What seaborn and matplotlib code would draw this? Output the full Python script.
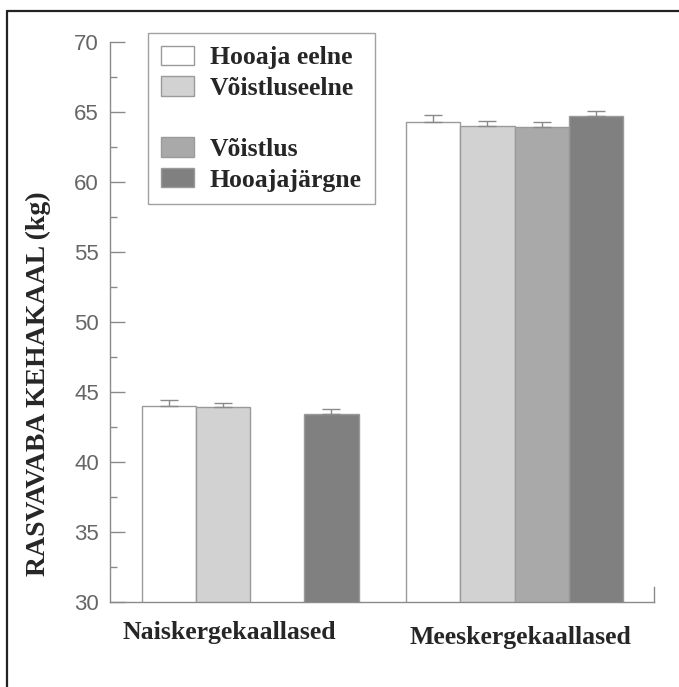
import numpy as np
import pandas as pd
import matplotlib.pyplot as plt
import seaborn as sns
from matplotlib.lines import Line2D
from matplotlib.patches import Patch
from matplotlib.transforms import ScaledTranslation

# data
groups = ["Naiskergekaallased", "Meeskergekaallased"]
phases = ["Hooaja eelne", "Võistluseelne", "Võistlus", "Hooajajärgne"]
women_mean = [44.0, 43.95, np.nan, 43.45]
women_err = [0.45, 0.28, np.nan, 0.32]
men_mean = [64.3, 64.03, 63.96, 64.74]
men_err = [0.45, 0.35, 0.35, 0.33]
phase_colors = ["#ffffff", "#d2d2d2", "#a9a9a9", "#808080"]

yticks = [30, 35, 40, 45, 50, 55, 60, 65, 70]
ylabel = "RASVAVABA KEHAKAAL (kg)"

df = pd.DataFrame({
    "group": [groups[0]] * 4 + [groups[1]] * 4,
    "phase": phases * 2,
    "mass": women_mean + men_mean,
    "err": women_err + men_err,
})

sns.set_style("white")
plt.rcParams["font.family"] = ["Liberation Serif", "DejaVu Serif"]

fig = plt.figure(figsize=(6.79, 6.87), dpi=100)
ax = fig.add_axes([0.162, 0.1237, 0.801, 0.8152])

sns.barplot(
    data=df, x="group", y="mass", hue="phase",
    order=groups, hue_order=phases, palette=phase_colors,
    width=0.82, edgecolor="#9a9a9a", linewidth=1.0,
    errorbar=None, legend=False, ax=ax,
)

# one-sided error bars on top of each bar
for cont, phase in zip(ax.containers, phases):
    sub = df[df["phase"] == phase].dropna()
    for bar in cont:
        h = bar.get_height()
        if np.isnan(h):
            continue
        row = sub.iloc[(sub["mass"] - h).abs().argmin()]
        xc = bar.get_x() + bar.get_width() / 2
        ax.errorbar(xc, h, yerr=[[0], [row["err"]]], fmt="none",
                    ecolor="#8a8a8a", elinewidth=1.0, capsize=6.5,
                    capthick=1.0, zorder=3)

ax.set_ylim(30, 70)
ax.set_xlim(-0.53, 1.527)
ax.set_yticks(yticks)
ax.set_yticks(np.arange(32.5, 70, 5), minor=True)
ax.tick_params(axis="y", which="major", direction="in", length=11,
               width=1, color="#8a8a8a", labelcolor="#666666", pad=8,
               left=True)
ax.tick_params(axis="y", which="minor", direction="in", length=5,
               width=1, color="#8a8a8a", left=True)
for lab in ax.get_yticklabels():
    lab.set_family(["Liberation Sans", "DejaVu Sans"])
    lab.set_fontsize(16)
ax.tick_params(axis="x", length=0, pad=14)
ax.set_xticks([0, 1])
ax.set_xticklabels(groups, fontsize=18.5, fontweight="bold")
for lab, dx, dy in zip(ax.get_xticklabels(), [-15, 4], [0, -3]):
    lab.set_transform(lab.get_transform() + ScaledTranslation(dx / 72, dy / 72, fig.dpi_scale_trans))

ax.set_xlabel("")
ax.set_ylabel(ylabel, fontsize=20, fontweight="bold")
ax.yaxis.set_label_coords(-0.108, 0.39)

for side in ["left", "bottom", "right"]:
    ax.spines[side].set_color("#8a8a8a")
    ax.spines[side].set_linewidth(1.0)
ax.spines["top"].set_visible(False)
ax.spines["right"].set_bounds(30, 31.1)

# legend with a blank slot between the 2nd and 3rd entries
handles = [Patch(facecolor=c, edgecolor="#9a9a9a", linewidth=1.0) for c in phase_colors]
blank = Patch(facecolor="none", edgecolor="none")
leg = fig.legend(
    handles[:2] + [blank] + handles[2:],
    phases[:2] + [""] + phases[2:],
    loc="upper left", bbox_to_anchor=(0.218, 0.952),
    prop={"family": "Liberation Serif", "weight": "bold", "size": 18.5},
    frameon=True, fancybox=False, edgecolor="#8a8a8a",
    handlelength=1.3, handleheight=0.78, labelspacing=0.27,
    borderpad=0.5, handletextpad=0.6, borderaxespad=0,
)
leg.get_frame().set_linewidth(1.0)

# the outer frame of the original picture
fig.add_artist(Line2D([7 / 679, 1], [1 - 11 / 687] * 2, color="#222222", lw=1.6))
fig.add_artist(Line2D([7 / 679] * 2, [0, 1 - 11 / 687], color="#222222", lw=1.6))

fig.savefig("out.png", dpi=100)
